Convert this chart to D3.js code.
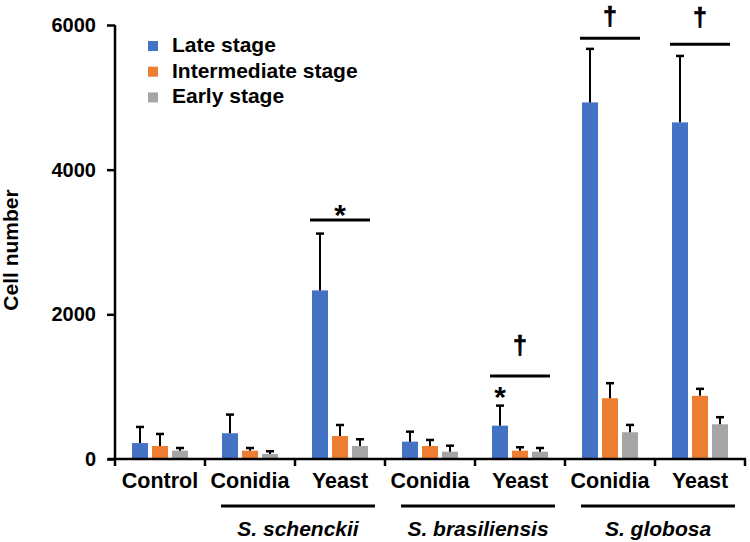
<!DOCTYPE html>
<html><head><meta charset="utf-8">
<script src="https://cdn.jsdelivr.net/npm/d3@7"></script>
<style>body{margin:0;background:#fff}svg{display:block;font-family:"Liberation Sans",Arial,sans-serif;font-weight:bold}</style>
</head><body>
<svg id="c" width="750" height="542"></svg>
<script>
const categories = ["Control","Conidia","Yeast","Conidia","Yeast","Conidia","Yeast"];
const seriesNames = ["Late stage","Intermediate stage","Early stage"];
const lateMean  = [220, 356, 2331, 240, 461, 4930, 4654];
const lateSD    = [223, 258, 785, 138, 277, 740, 918];
const interMean = [180, 115, 318, 180, 115, 840, 873];
const interSD   = [166, 37, 152, 83, 47, 208, 97];
const earlyMean = [115, 69, 180, 101, 101, 370, 480];
const earlySD   = [37, 38, 93, 83, 51, 101, 98];
const yTicks = [0, 2000, 4000, 6000];
const speciesNames = ["S. schenckii","S. brasiliensis","S. globosa"];
const speciesFirstCat = [1, 3, 5];
// significance marks: category, line level, symbol, symbol level (centre)
const sigCats = [2, 4, 5, 6];
const sigLineLevel = [3304, 1147, 5816, 5733];
const sigSymbols = ["*", "\u2020", "\u2020", "\u2020"];
const sigSymbolLevel = [3470, 1548, 6100, 6080];
const barStarCat = 4, barStarLevel = 954;

const colors = ["#4472C4","#ED7D31","#A5A5A5"];
const means = [lateMean, interMean, earlyMean];
const sds = [lateSD, interSD, earlySD];

const svg = d3.select("#c");
const y = d3.scaleLinear().domain([0,6000]).range([459,25]);
const x = d3.scaleBand().domain(d3.range(categories.length)).range([115,745]).paddingInner(0).paddingOuter(0);
const xs = d3.scaleBand().domain(d3.range(3)).range([0, x.bandwidth()]).paddingInner(0.2).paddingOuter(0.85);

// bars
for (let s = 0; s < 3; s++) {
  const g = svg.append("g");
  g.selectAll("rect").data(means[s]).join("rect")
    .attr("x", (d,i) => x(i) + xs(s))
    .attr("y", d => y(d))
    .attr("width", xs.bandwidth())
    .attr("height", d => y(0) - y(d))
    .attr("fill", colors[s]);
  const eg = svg.append("g").attr("stroke","#000");
  means[s].forEach((m,i) => {
    const cx = x(i) + xs(s) + xs.bandwidth()/2;
    const top = y(m + sds[s][i]);
    eg.append("line").attr("x1",cx).attr("x2",cx).attr("y1",y(m)).attr("y2",top).attr("stroke-width",2);
    eg.append("line").attr("x1",cx-4).attr("x2",cx+4).attr("y1",top).attr("y2",top).attr("stroke-width",2.5);
  });
}

// y axis
const ya = svg.append("g").attr("transform","translate(115,0)")
  .call(d3.axisLeft(y).tickValues(yTicks).tickSize(8).tickPadding(11).tickFormat(d3.format("d")));
ya.select(".domain").attr("stroke","#000").attr("stroke-width",2.5).attr("d","M0,25V459");
ya.selectAll(".tick line").attr("stroke","#000").attr("stroke-width",2.5);
ya.selectAll(".tick text").attr("font-size",20).attr("font-weight","bold").attr("font-family","Liberation Sans, Arial, sans-serif").attr("fill","#000");

// x axis
const xa = svg.append("g").attr("transform","translate(0,459)");
xa.append("line").attr("x1",108).attr("x2",746).attr("y1",0).attr("y2",0).attr("stroke","#000").attr("stroke-width",2.5);
const xTickPos = d3.range(categories.length + 1).map(i => 115 + i * x.step());
xa.selectAll(".xt").data(xTickPos).join("line").attr("class","xt")
  .attr("x1",d=>d).attr("x2",d=>d).attr("y1",0).attr("y2",7).attr("stroke","#000").attr("stroke-width",2.5);
svg.append("g").selectAll("text").data(categories).join("text")
  .attr("x",(d,i)=>x(i)+x.bandwidth()/2).attr("y",488)
  .attr("text-anchor","middle").attr("font-size",21.5).attr("fill","#000").text(d=>d);

// species groups
speciesNames.forEach((n,k) => {
  const c = x(speciesFirstCat[k]) + x.bandwidth() + 3;
  svg.append("line").attr("x1",c-77).attr("x2",c+77).attr("y1",506).attr("y2",506).attr("stroke","#000").attr("stroke-width",3);
  svg.append("text").attr("x",c).attr("y",536).attr("text-anchor","middle").attr("font-size",21).attr("font-style","italic").attr("fill","#000").text(n);
});

// significance
sigCats.forEach((c,k) => {
  const cx = x(c) + x.bandwidth()/2;
  svg.append("line").attr("x1",cx-30).attr("x2",cx+30).attr("y1",y(sigLineLevel[k])).attr("y2",y(sigLineLevel[k])).attr("stroke","#000").attr("stroke-width",3);
  const isStar = sigSymbols[k] === "*";
  svg.append("text").attr("x",cx).attr("y",y(sigSymbolLevel[k]) + (isStar ? 17 : 7))
    .attr("text-anchor","middle").attr("font-size",isStar ? 30 : 25)
    .attr("stroke","#000").attr("stroke-width", isStar ? 0 : 0.7)
    .attr("fill","#000").text(sigSymbols[k]);
});
svg.append("text").attr("x", x(barStarCat) + xs(0) + xs.bandwidth()/2).attr("y", y(barStarLevel) + 17)
  .attr("text-anchor","middle").attr("font-size",30).attr("fill","#000").text("*");

// legend
seriesNames.forEach((n,k) => {
  const by = 52 + k * 25.7;
  svg.append("rect").attr("x",148).attr("y",by-11).attr("width",10).attr("height",10).attr("fill",colors[k]);
  svg.append("text").attr("x",172).attr("y",by).attr("font-size",21).attr("fill","#000").text(n);
});

// y title
svg.append("text").attr("transform","translate(18,250) rotate(-90)").attr("text-anchor","middle")
  .attr("font-size",21).attr("fill","#000").text("Cell number");
</script>
</body></html>
